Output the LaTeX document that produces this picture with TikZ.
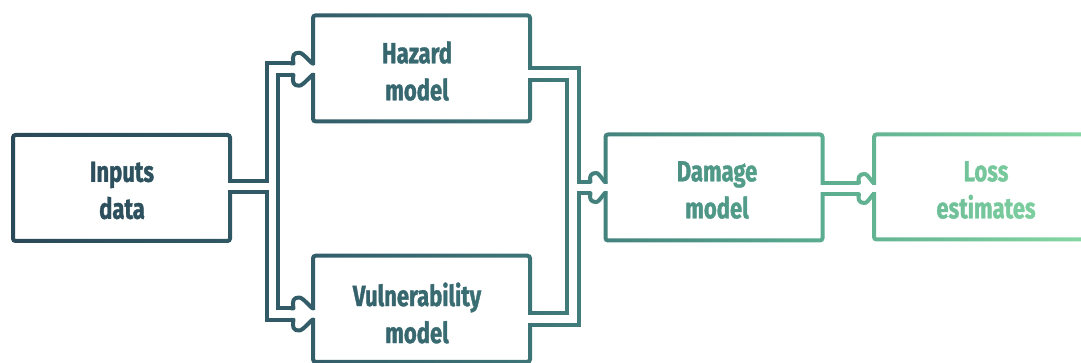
\documentclass[tikz,border=0pt]{standalone}
\usepackage{fontspec}
\newfontfamily\lbfont{Fira Sans}[FakeStretch=0.76, FakeBold=1.2]
\usetikzlibrary{calc}

% left-to-right colour ramp of the whole flow chart (stops mapped into 25bp..75bp)
\pgfdeclarehorizontalshading{flowgrad}{100bp}{%
  rgb(0bp)=(0.165,0.282,0.345);
  rgb(25bp)=(0.165,0.282,0.345);
  rgb(38.9bp)=(0.196,0.361,0.408);
  rgb(50bp)=(0.243,0.463,0.471);
  rgb(62bp)=(0.345,0.659,0.557);
  rgb(75bp)=(0.518,0.839,0.635);
  rgb(100bp)=(0.518,0.839,0.635)}

\tikzset{
  box/.style={draw=black, line width=4pt, rounded corners=2.5pt, inner sep=0pt,
    outer sep=0pt, minimum width=217pt, minimum height=106pt},
  tubeouter/.style={draw=black, line width=15.5pt},
  tubeinner/.style={draw=white, line width=7.5pt},
  wall/.style={draw=black, line width=4pt, line cap=round, line join=round},
  lbl/.style={font={\lbfont\bfseries\fontsize{29}{37}\selectfont}, align=center,
    inner sep=0pt, text=black},
  bigbulb/.pic={
    \foreach \s in {1,-1}{
      \draw[wall, yscale=\s] (-22,-5.75) -- (-19.5,-5.75)
        .. controls (-21,-13.5) and (-19.5,-16.5) .. (-14,-16.5)
        .. controls (-11.5,-16.5) and (-9.5,-14.5) .. (-1.5,-6.5) -- (0,-5.5);
    }
  },
  smallbulb/.pic={
    \foreach \s in {1,-1}{
      \draw[wall, yscale=\s] (-17.5,-5.75) -- (-15,-5.75)
        .. controls (-16.5,-11.5) and (-14.5,-14.5) .. (-9.5,-14.5)
        .. controls (-7.5,-14.5) and (-6,-12.5) .. (-1.5,-6.5) -- (0,-5.5);
    }
  }
}

\begin{document}
\begin{tikzpicture}[x=1pt, y=-1pt]
  \useasboundingbox (0,0) rectangle (1081,363);
  \fill[white] (0,0) rectangle (1081,363);

  % boxes
  \node[box] (inp) at (121.5,188) {};
  \node[box] (haz) at (421.5,68.4) {};
  \node[box] (vul) at (421.5,308.75) {};
  \node[box] (dam) at (714,187.5) {};
  \node[box, minimum height=105pt] (los) at (982.5,187) {};

  % tube ends and junctions
  \path (inp.east) ++(0,-1.7) coordinate (inpOut);
  \path (haz.west) ++(0,0.8) coordinate (hazIn);
  \path (haz.east) ++(0,5.6) coordinate (hazOut);
  \path (vul.west) ++(0,5.25) coordinate (vulIn);
  \path (vul.east) ++(0,10.25) coordinate (vulOut);
  \path (dam.west) ++(0,0) coordinate (damIn);
  \path (dam.east) ++(0,1) coordinate (damOut);
  \path (los.west) ++(0,1.5) coordinate (losIn);
  \coordinate (jL) at (272.5,186.3);
  \coordinate (jR) at (573,187.5);

  % tube walls
  \draw[tubeouter] (inpOut) -- (jL) |- ([xshift=-19.5pt]hazIn);
  \draw[tubeouter] (jL) |- ([xshift=-19.5pt]vulIn);
  \draw[tubeouter] (hazOut) -| (jR) -- ([xshift=-15pt]damIn);
  \draw[tubeouter] (vulOut) -| (jR);
  \draw[tubeouter] (damOut) -- ([xshift=-15pt]losIn);

  % hollow insides of the tubes, opening the box borders
  \draw[tubeinner] ([xshift=-6pt]inpOut) -- (jL) |- ([xshift=3pt]hazIn);
  \draw[tubeinner] (jL) |- ([xshift=3pt]vulIn);
  \draw[tubeinner] ([xshift=-6pt]hazOut) -| (jR) -- ([xshift=3pt]damIn);
  \draw[tubeinner] ([xshift=-6pt]vulOut) -| (jR);
  \draw[tubeinner] ([xshift=-6pt]damOut) -- ([xshift=3pt]losIn);

  % rounded arrow heads
  \pic at (hazIn) {bigbulb};
  \pic at (vulIn) {bigbulb};
  \pic at (damIn) {smallbulb};
  \pic at (losIn) {smallbulb};

  % labels
  \node[lbl] (inpT) at (122,190.5) {Inputs\\data};
  \node[lbl] (hazT) at (417,71) {Hazard\\model};
  \node[lbl] (vulT) at (417,313) {Vulnerability\\model};
  \node[lbl] (damT) at (717,190) {Damage\\model};
  \node[lbl] (losT) at (986,190) {Loss\\estimates};

  % colour ramp over the black line art
  \begin{scope}[blend mode=screen]
    \shade[shading=flowgrad] (0,0) rectangle (1081,363);
  \end{scope}
\end{tikzpicture}
\end{document}
